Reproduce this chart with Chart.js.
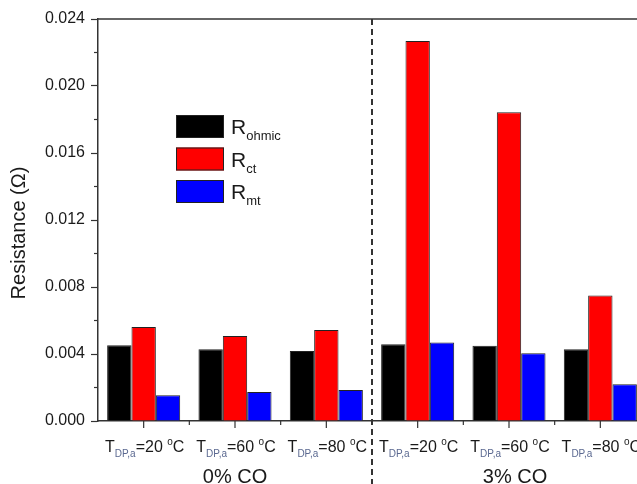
<!DOCTYPE html>
<html>
<head>
<meta charset="utf-8">
<script src="https://cdn.jsdelivr.net/npm/chart.js@4"></script>
<style>
  html, body { margin: 0; padding: 0; overflow: hidden; background: #fff; }
</style>
</head>
<body>
<div style="width:660px;height:484px"><canvas id="chart" width="660" height="484"></canvas></div>
<script>
// dew point temperatures for each group, 0% CO then 3% CO
const categories = ['20', '60', '80', '20', '60', '80'];
const groupLabels = ['0% CO', '3% CO'];
const seriesNames = ['ohmic', 'ct', 'mt'];
const rOhmic = [0.00452, 0.00428, 0.00418, 0.00458, 0.00450, 0.00428];
const rCt = [0.00561, 0.00507, 0.00543, 0.02269, 0.01843, 0.00750];
const rMt = [0.00153, 0.00173, 0.00185, 0.00468, 0.00404, 0.00219];
const yMax = 0.024;
const yStep = 0.004;

const colors = ['#000000', '#ff0000', '#0000ff'];
const FONT = 'Arial, "Liberation Sans", sans-serif';

// draw a run of text pieces [text, size, dy, color], centred or left aligned
function drawRuns(ctx, runs, x, y, align) {
  let total = 0;
  runs.forEach(r => {
    ctx.font = r[1] + 'px ' + FONT;
    total += ctx.measureText(r[0]).width;
  });
  let cx = align === 'center' ? x - total / 2 : x;
  ctx.textBaseline = 'alphabetic';
  ctx.textAlign = 'left';
  runs.forEach(r => {
    ctx.font = r[1] + 'px ' + FONT;
    ctx.fillStyle = r[3] || '#1a1a1a';
    ctx.fillText(r[0], cx, y + r[2]);
    cx += ctx.measureText(r[0]).width;
  });
}

const decorations = {
  id: 'decorations',
  afterDraw(chart) {
    const ctx = chart.ctx;
    const area = chart.chartArea;
    const xs = chart.scales.x;
    const ys = chart.scales.y;
    ctx.save();

    // top frame line
    ctx.strokeStyle = '#333';
    ctx.lineWidth = 1.5;
    ctx.beginPath();
    ctx.moveTo(area.left, area.top);
    ctx.lineTo(chart.width, area.top);
    ctx.stroke();

    // y minor ticks
    ctx.lineWidth = 1.2;
    for (let v = yStep / 2; v < yMax; v += yStep) {
      const py = ys.getPixelForValue(v);
      ctx.beginPath();
      ctx.moveTo(area.left - 4, py);
      ctx.lineTo(area.left, py);
      ctx.stroke();
    }

    // x ticks: long at group centres, short at boundaries
    const half = (xs.getPixelForValue(1) - xs.getPixelForValue(0)) / 2;
    categories.forEach((c, i) => {
      const px = xs.getPixelForValue(i);
      ctx.beginPath();
      ctx.moveTo(px, area.bottom);
      ctx.lineTo(px, area.bottom + 7);
      ctx.stroke();
      if (i > 0) {
        ctx.beginPath();
        ctx.moveTo(px - half, area.bottom);
        ctx.lineTo(px - half, area.bottom + 4);
        ctx.stroke();
      }
      drawRuns(ctx, [
        ['T', 16, 0],
        ['DP,a', 10, 5, '#5a6890'],
        ['=' + c + ' ', 16, 0],
        ['o', 10, -7],
        ['C', 16, 0]
      ], px + 1, area.bottom + 31, 'center');
    });

    // group labels
    drawRuns(ctx, [[groupLabels[0], 20, 0]], xs.getPixelForValue(1), 483, 'center');
    drawRuns(ctx, [[groupLabels[1], 20, 0]], xs.getPixelForValue(4) + 6, 483, 'center');

    // dashed separator between the two groups
    const sep = (xs.getPixelForValue(2) + xs.getPixelForValue(3)) / 2;
    ctx.strokeStyle = '#333';
    ctx.lineWidth = 2;
    ctx.setLineDash([6, 4]);
    ctx.beginPath();
    ctx.moveTo(sep, area.top);
    ctx.lineTo(sep, chart.height);
    ctx.stroke();
    ctx.setLineDash([]);

    // legend
    const lx = area.left + 78;
    const ly = area.top + 96;
    seriesNames.forEach((name, i) => {
      const top = ly + i * 32.5;
      ctx.fillStyle = colors[i];
      ctx.fillRect(lx, top, 48, 23);
      ctx.strokeStyle = '#222';
      ctx.lineWidth = 1;
      ctx.strokeRect(lx + 0.5, top + 0.5, 47, 22);
      drawRuns(ctx, [['R', 21, 0], [name, 13, 6]], lx + 55, top + 19, 'left');
    });

    // y axis title
    ctx.translate(25, 233);
    ctx.rotate(-Math.PI / 2);
    drawRuns(ctx, [['Resistance (\u03A9)', 20, 0]], 0, 0, 'center');
    ctx.restore();
  }
};

const datasets = [rOhmic, rCt, rMt].map((d, i) => ({
  label: 'R' + seriesNames[i],
  data: d,
  backgroundColor: colors[i],
  borderColor: '#222',
  borderWidth: 1,
  categoryPercentage: 0.8,
  barPercentage: 1.0
}));

new Chart(document.getElementById('chart'), {
  type: 'bar',
  data: { labels: categories, datasets: datasets },
  options: {
    responsive: false,
    animation: false,
    layout: { padding: { top: 19, right: 14, left: 0, bottom: 0 } },
    plugins: { legend: { display: false }, tooltip: { enabled: false } },
    scales: {
      x: {
        ticks: { display: false },
        grid: { display: false },
        border: { display: true, color: '#333', width: 1.5 },
        afterFit(scale) { scale.height = 63; }
      },
      y: {
        min: 0,
        max: yMax,
        ticks: {
          stepSize: yStep,
          padding: 6,
          color: '#1a1a1a',
          font: { family: FONT, size: 16 },
          callback: v => v.toFixed(3)
        },
        grid: { drawOnChartArea: false, drawTicks: true, tickLength: 7, color: '#333', tickWidth: 1.2 },
        border: { display: true, color: '#333', width: 1.5 },
        afterFit(scale) { scale.width = 98; }
      }
    }
  },
  plugins: [decorations]
});
</script>
</body>
</html>
